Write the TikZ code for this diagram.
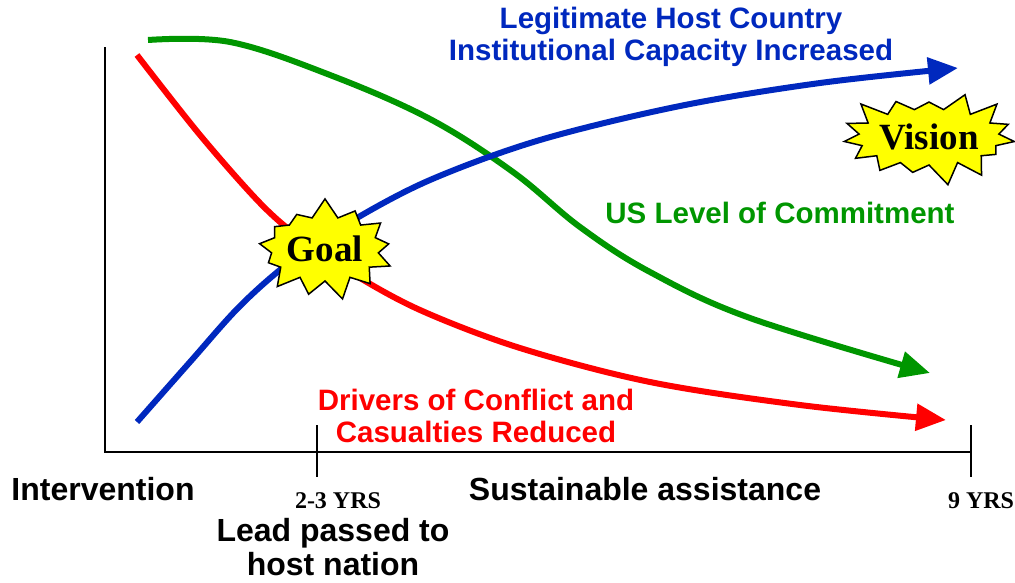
\documentclass[tikz,border=0pt]{standalone}
\usepackage{fontspec}
\setmainfont{Liberation Serif}
\setsansfont{Liberation Sans}
\usetikzlibrary{arrows.meta,shapes.symbols}
\definecolor{cred}{RGB}{255,0,0}
\definecolor{cblue}{RGB}{0,40,190}
\definecolor{cgreen}{RGB}{0,150,0}
\definecolor{cyel}{RGB}{255,255,0}
\begin{document}
\begin{tikzpicture}[x=1pt,y=-1pt,
  curve/.style={line width=6pt,-{Triangle[length=30pt,width=26pt]}},
  axis/.style={line width=2pt,black},
  lab/.style={font=\fontsize{29.5}{31.5}\selectfont\sffamily\bfseries,align=center},
  blab/.style={font=\fontsize{32}{34}\selectfont\sffamily\bfseries,align=center},
  yrs/.style={font=\fontsize{24}{28}\selectfont\rmfamily\bfseries},
  burst/.style={starburst,fill=cyel,draw=black,line width=1.5pt,
     font=\fontsize{37}{40}\selectfont\rmfamily\bfseries,inner sep=0pt}]
\useasboundingbox (0,0) rectangle (1015,582);
% axes
\coordinate (top) at (105,47);
\coordinate (origin) at (105,452);
\coordinate (xend) at (971,452);
\draw[axis] (top) -- (origin) -- (xend);
\coordinate (t1a) at (317,425); \coordinate (t1b) at (317,477);
\coordinate (t2a) at (971,425); \coordinate (t2b) at (971,477);
\draw[axis] (t1a) -- (t1b);
\draw[axis] (t2a) -- (t2b);
% curves
\draw[curve,cgreen] plot[smooth,tension=0.6] coordinates{(148,40) (230,42) (330,75) (430,119) (513,172) (580,227) (650,272) (750,318) (930,373)};
\draw[curve,cred] plot[smooth,tension=0.55] coordinates{(137,55) (200,135) (260,203) (300,238) (350,272) (420,310) (520,348) (650,382) (800,405) (946,420)};
\draw[curve,cblue] plot[smooth,tension=0.55] coordinates{(137,422) (190,362) (240,306) (290,262) (350,222) (430,180) (540,140) (680,106) (820,83) (958,68)};
% starbursts
\node[burst,minimum width=128pt,minimum height=104pt,starburst points=13,starburst point height=20pt,random starburst=7] (goal) at (325,249) {Goal};
\node[burst,minimum width=166pt,minimum height=100pt,starburst points=15,starburst point height=22pt,random starburst=3] (vision) at (929,137) {Vision};
% labels
\node[lab,text=cblue] (legit) at (671,37) {Legitimate Host Country\\Institutional Capacity Increased};
\node[lab,text=cgreen] (uslev) at (780,213) {US Level of Commitment};
\node[lab,text=cred] (drivers) at (476,416) {Drivers of Conflict and\\Casualties Reduced};
\node[blab] (interv) at (103,489) {Intervention};
\node[blab] (sust) at (645,489) {Sustainable assistance};
\node[blab] (lead) at (333,547) {Lead passed to\\host nation};
\node[yrs] (y23) at (338,501) {2-3 YRS};
\node[yrs] (y9) at (981,501) {9 YRS};
\end{tikzpicture}
\end{document}
